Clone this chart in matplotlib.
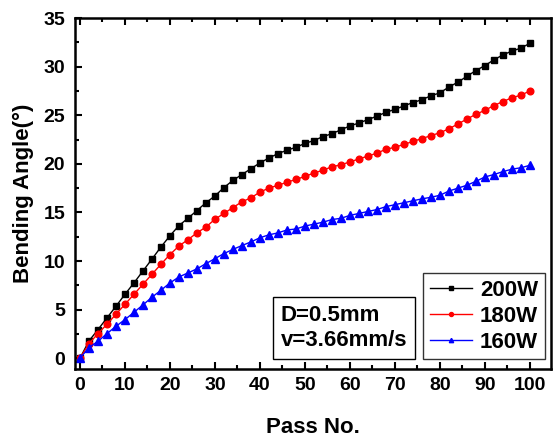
import matplotlib
matplotlib.use("Agg")
import matplotlib.pyplot as plt
from matplotlib.ticker import MultipleLocator

passes = list(range(0, 101, 2))
w200 = [0, 1.78, 2.95, 4.15, 5.35, 6.58, 7.75, 8.98, 10.2, 11.45, 12.6, 13.65, 14.4, 15.2,
        16.0, 16.7, 17.56, 18.3, 18.9, 19.5, 20.1, 20.6, 21.05, 21.4, 21.7, 22.1, 22.4, 22.8,
        23.1, 23.5, 23.9, 24.2, 24.55, 24.9, 25.3, 25.6, 25.96, 26.3, 26.6, 27.0, 27.3, 27.9,
        28.4, 29.0, 29.6, 30.1, 30.7, 31.2, 31.6, 31.9, 32.4]
w180 = [0, 1.5, 2.54, 3.5, 4.53, 5.55, 6.58, 7.61, 8.64, 9.67, 10.67, 11.55, 12.2, 12.9,
        13.5, 14.3, 14.9, 15.5, 16.1, 16.5, 17.1, 17.5, 17.8, 18.1, 18.4, 18.7, 19.06, 19.34,
        19.7, 19.9, 20.2, 20.5, 20.8, 21.1, 21.5, 21.7, 22.0, 22.3, 22.6, 22.9, 23.2, 23.6,
        24.1, 24.6, 25.1, 25.5, 26.0, 26.4, 26.8, 27.06, 27.5]
w160 = [0, 1.1, 1.75, 2.54, 3.29, 3.98, 4.73, 5.49, 6.28, 7.0, 7.75, 8.37, 8.78, 9.2,
        9.74, 10.25, 10.77, 11.2, 11.6, 11.97, 12.4, 12.7, 12.9, 13.2, 13.3, 13.6, 13.8, 14.0,
        14.27, 14.4, 14.7, 14.9, 15.1, 15.3, 15.6, 15.8, 16.0, 16.2, 16.4, 16.56, 16.77, 17.2,
        17.5, 17.8, 18.2, 18.65, 18.9, 19.2, 19.45, 19.6, 19.85]
labels = ["200W", "180W", "160W"]

plt.rcParams['font.family'] = ['Liberation Sans', 'DejaVu Sans']
plt.rcParams['font.weight'] = 'bold'

fig = plt.figure(figsize=(5.53, 4.38), dpi=100)
ax = fig.add_axes([0.1356, 0.1575, 0.8608, 0.8014])

ax.plot(passes, w200, '-s', color='black', lw=1, ms=4.3, label=labels[0])
ax.plot(passes, w180, '-o', color='red', lw=1, ms=4.8, label=labels[1])
ax.plot(passes, w160, '-^', color='blue', lw=1, ms=5.2, label=labels[2])

ax.set_xlim(-1.1, 104.7)
ax.set_ylim(-1.1, 35)
ax.xaxis.set_major_locator(MultipleLocator(10))
ax.xaxis.set_minor_locator(MultipleLocator(5))
ax.yaxis.set_major_locator(MultipleLocator(5))
ax.yaxis.set_minor_locator(MultipleLocator(2.5))
ax.tick_params(which='both', direction='in', width=1.5, labelsize=14, top=True)
ax.tick_params(which='major', length=5)
ax.tick_params(axis='y', which='major', pad=7)
ax.tick_params(axis='x', which='major', pad=6)
ax.tick_params(which='minor', length=3)
for lab in ax.get_xticklabels() + ax.get_yticklabels():
    lab.set_fontweight('bold')
for s in ax.spines.values():
    s.set_linewidth(1.8)

ax.set_xlabel("Pass No.", fontsize=16, fontweight='bold', labelpad=16)
ax.set_ylabel("Bending Angle(°)", fontsize=16, fontweight='bold', labelpad=7)

leg = ax.legend(loc='lower right', bbox_to_anchor=(0.987, 0.028), fontsize=16,
                frameon=True, fancybox=False, edgecolor='black', handlelength=1.9,
                borderpad=0.3, labelspacing=0.22, handletextpad=0.35, borderaxespad=0,
                markerscale=0.6)
leg.get_frame().set_linewidth(1)
for t in leg.get_texts():
    t.set_fontweight('bold')

ax.text(0.432, 0.052, "D=0.5mm\nv=3.66mm/s", transform=ax.transAxes, fontsize=16,
        fontweight='bold', va='bottom', ha='left', linespacing=1.25,
        bbox=dict(boxstyle='square,pad=0.35', fc='white', ec='black', lw=1))

fig.savefig("out.png", dpi=100)
